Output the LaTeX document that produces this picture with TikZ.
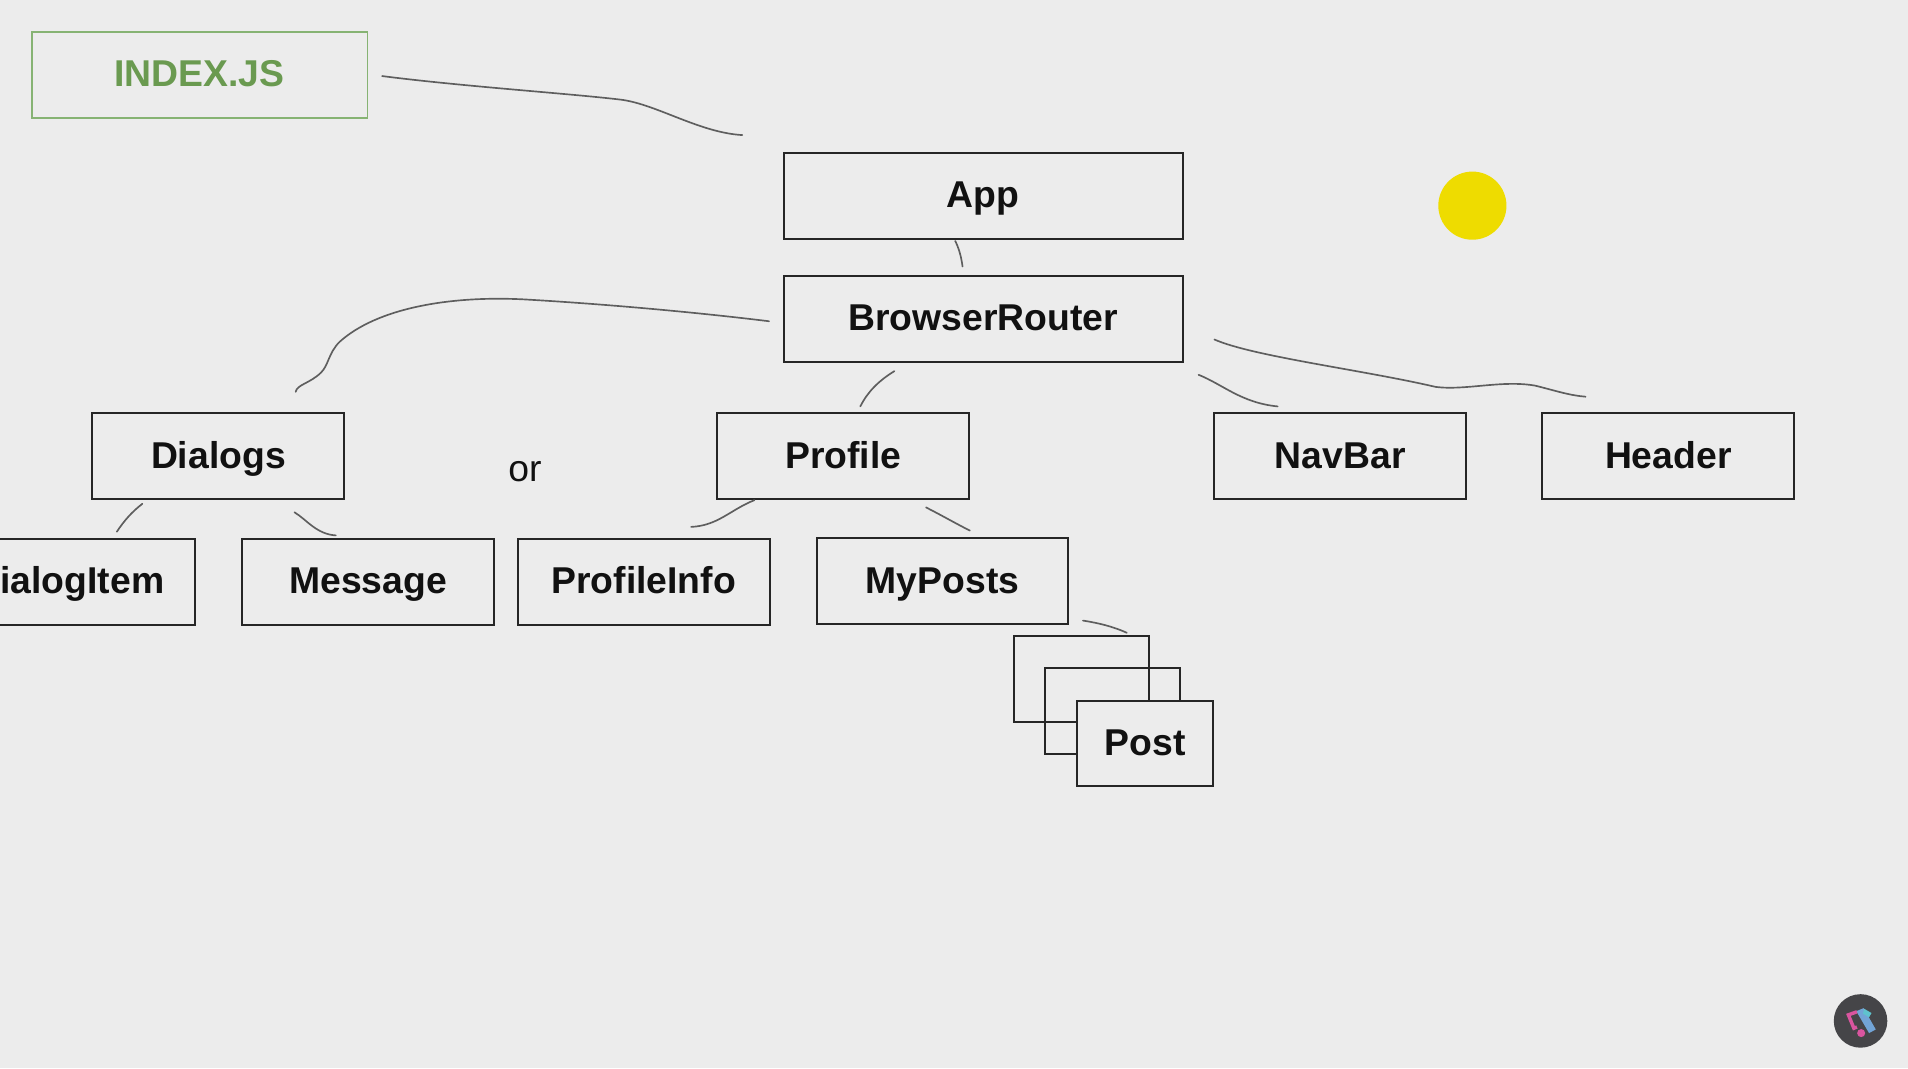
\documentclass[tikz,border=0pt]{standalone}
\usepackage{fontspec}
\setmainfont{Liberation Sans}
\definecolor{bg}{HTML}{ECECEC}
\definecolor{ink}{HTML}{262626}
\definecolor{inktext}{HTML}{111111}
\definecolor{stroke}{HTML}{5E5E5E}
\definecolor{gtext}{HTML}{6A9A50}
\definecolor{gline}{HTML}{86B373}
\definecolor{sun}{HTML}{EEDC00}
\definecolor{badge}{HTML}{454548}
\definecolor{pinkm}{HTML}{D9559F}
\definecolor{bluem}{HTML}{72A4D6}
\definecolor{tealm}{HTML}{5FC3CE}
\tikzset{
  box/.style={draw=ink,line width=1.5pt,rectangle,inner sep=0pt,text height=24pt,text depth=6pt,text=inktext,
    font=\fontsize{28}{30}\selectfont\bfseries,minimum height=64.3pt},
  widebox/.style={box,minimum width=299.3pt},
  midbox/.style={box,minimum width=188.9pt},
  postbox/.style={box,minimum width=101.8pt,fill=bg},
  ghostbox/.style={draw=ink,line width=1.5pt,rectangle,inner sep=0pt,minimum width=101.3pt,minimum height=64.3pt},
  greenbox/.style={box,draw=gline,text=gtext,line width=1.4pt,minimum width=251.9pt},
  plain/.style={inner sep=0pt,text height=24pt,text depth=6pt,text=inktext,font=\fontsize{28}{30}\selectfont},
  wire/.style={draw=stroke,line width=1.25pt,line cap=round}
}
\begin{document}
\begin{tikzpicture}[x=0.9126pt,y=-0.9126pt]
\useasboundingbox (0,0) rectangle (1568,878);
\clip (0,0) rectangle (1568,878);
\fill[bg] (0,0) rectangle (1568,878);

\node[greenbox] (index) at (164,61.5) {INDEX.JS};
\node[widebox] (app) at (808,161) {App};
\node[widebox] (router) at (808,262) {BrowserRouter};
\node[midbox] (dialogs) at (179.5,375) {Dialogs};
\node[plain] (or) at (431.5,386) {or};
\node[midbox] (profile) at (693,375) {Profile};
\node[midbox] (navbar) at (1101.5,375) {NavBar};
\node[midbox] (header) at (1371,375) {Header};
\node[box,inner xsep=0pt] (dialogitem) at (77.5,478) {\makebox[150.6pt][r]{ialogItem\hspace{22.8pt}}};
\node[midbox] (message) at (302.5,478) {Message};
\node[midbox] (profileinfo) at (529,478) {ProfileInfo};
\node[midbox] (myposts) at (774.5,477.5) {MyPosts};
\node[ghostbox] (postA) at (888.5,558) {};
\node[ghostbox] (postB) at (914.5,584.5) {};
\node[postbox] (post) at (941,611) {Post};

\coordinate (a1) at (314,62.5);   \coordinate (a2) at (610,111);
\coordinate (b1) at (785,198);    \coordinate (b2) at (791,219);
\coordinate (c1) at (632,264);    \coordinate (c2) at (243,322);
\coordinate (d1) at (735,305);    \coordinate (d2) at (707,334);
\coordinate (e1) at (985,308);    \coordinate (e2) at (1050,334);
\coordinate (f1) at (998,279);    \coordinate (f2) at (1303,326);
\coordinate (g1) at (117,414);    \coordinate (g2) at (96,437);
\coordinate (h1) at (242,421);    \coordinate (h2) at (276,440);
\coordinate (i1) at (620,411);    \coordinate (i2) at (568,433);
\coordinate (j1) at (761,417);    \coordinate (j2) at (797,436);
\coordinate (k1) at (890,510);    \coordinate (k2) at (926,520);

\draw[wire] (a1) .. controls (380,71) and (470,77) .. (511,82) .. controls (540,86) and (575,109) .. (a2);
\draw[wire] (b1) .. controls (788,204) and (790,211) .. (b2);
\draw[wire] (c1) .. controls (575,257) and (500,250) .. (430,246) .. controls (370,243) and (310,253) .. (279,281) .. controls (270,290) and (270,300) .. (264,306) .. controls (255,315) and (244,316) .. (c2);
\draw[wire] (d1) .. controls (722,313) and (713,322) .. (d2);
\draw[wire] (e1) .. controls (1005,316) and (1020,331) .. (e2);
\draw[wire] (f1) .. controls (1030,293) and (1120,304) .. (1180,318) .. controls (1205,321) and (1235,312) .. (1262,317) .. controls (1278,321) and (1290,325) .. (f2);
\draw[wire] (g1) .. controls (108,421) and (102,428) .. (g2);
\draw[wire] (h1) .. controls (252,427) and (260,439) .. (h2);
\draw[wire] (i1) .. controls (600,419) and (590,432) .. (i2);
\draw[wire] (j1) .. controls (773,423) and (785,430) .. (j2);
\draw[wire] (k1) .. controls (903,512) and (915,515) .. (k2);

\fill[sun] (1210,169) circle (28);

\begin{scope}[shift={(1529,839)}]
  \fill[badge] (0,0) circle (22);
  \fill[bluem] (-3.5,-8) -- (2.5,-10.5) -- (12.5,7) -- (7,10) -- cycle;
  \fill[tealm] (3,-10) -- (9,-6.5) -- (7,-3) -- (2,-6) -- cycle;
  \draw[pinkm,line width=2.6pt] (-3,-7.5) -- (-10,-5) -- (-5.5,6) -- (-3,5);
  \fill[pinkm] (0.5,10) circle (3.3);
\end{scope}
\end{tikzpicture}
\end{document}
